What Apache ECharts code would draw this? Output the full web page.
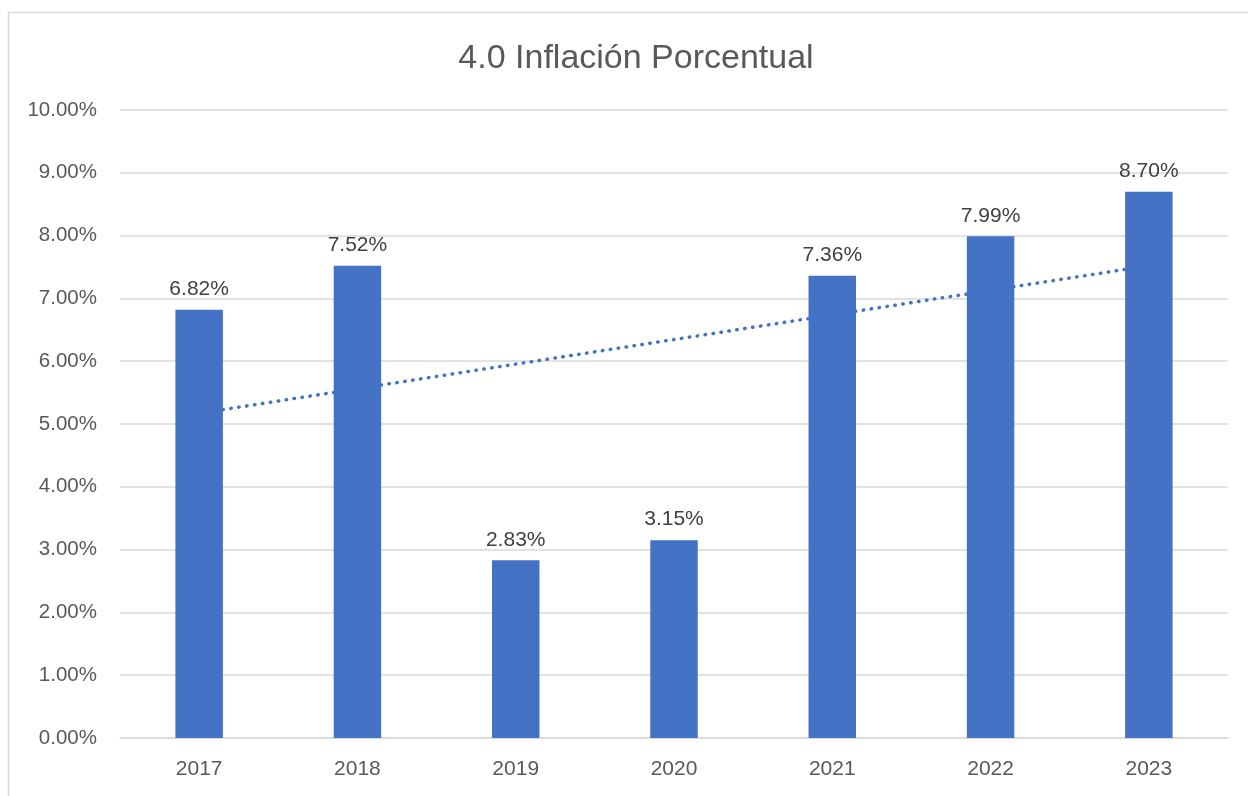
<!DOCTYPE html>
<html>
<head>
<meta charset="utf-8">
<script src="https://cdn.jsdelivr.net/npm/echarts@6/dist/echarts.min.js"></script>
<style>
  html, body { margin: 0; padding: 0; background: #fff; }
  #chart { width: 1248px; height: 796px; }
</style>
</head>
<body>
<div id="chart"></div>
<script>
var chart = echarts.init(document.getElementById('chart'));

// datos
var anios = ['2017', '2018', '2019', '2020', '2021', '2022', '2023'];
var inflacion = [6.82, 7.52, 2.83, 3.15, 7.36, 7.99, 8.70];
// línea de tendencia: extremos
var tendencia = [['2017', 5.17], ['2023', 7.52]];

var fuente = 'Liberation Sans';

var option = {
    backgroundColor: '#fff',
    textStyle: { fontFamily: fuente },
    graphic: [{
        type: 'rect',
        shape: { x: 8.5, y: 12.5, width: 1300, height: 900 },
        style: { fill: 'none', stroke: '#d9d9d9', lineWidth: 1.5 },
        silent: true
    }],
    title: {
        text: '4.0 Inflación Porcentual',
        left: 631, top: 37, textAlign: 'center',
        textStyle: { fontFamily: fuente, fontSize: 34, fontWeight: 'normal', color: '#595959' }
    },
    grid: { left: 120, right: 20, top: 110, bottom: 58, containLabel: false },
    xAxis: {
        type: 'category',
        data: anios,
        axisLine: { lineStyle: { color: '#d9d9d9', width: 1.5 } },
        axisTick: { show: false },
        axisLabel: { color: '#595959', fontSize: 21, margin: 21 }
    },
    yAxis: {
        type: 'value',
        min: 0, max: 10, interval: 1,
        axisLine: { show: false },
        axisTick: { show: false },
        splitLine: { lineStyle: { color: '#d9d9d9', width: 1.5 } },
        axisLabel: {
            color: '#595959', fontSize: 20.5, margin: 23,
            formatter: function (v) { return v.toFixed(2) + '%'; }
        }
    },
    series: [
        {
            name: 'Tendencia', type: 'line', data: tendencia, z: 1,
            symbol: 'none', silent: true,
            lineStyle: { color: '#4472C4', width: 3.5, type: [0.5, 7.5], cap: 'round' }
        },
        {
            name: 'Inflación', type: 'bar', data: inflacion, z: 2,
            barWidth: '30%',
            itemStyle: { color: '#4472C4' },
            label: {
                show: true, position: 'top', distance: 10,
                color: '#404040', fontSize: 21,
                formatter: function (p) { return p.value.toFixed(2) + '%'; }
            }
        }
    ]
};

chart.setOption(option);
</script>
</body>
</html>
